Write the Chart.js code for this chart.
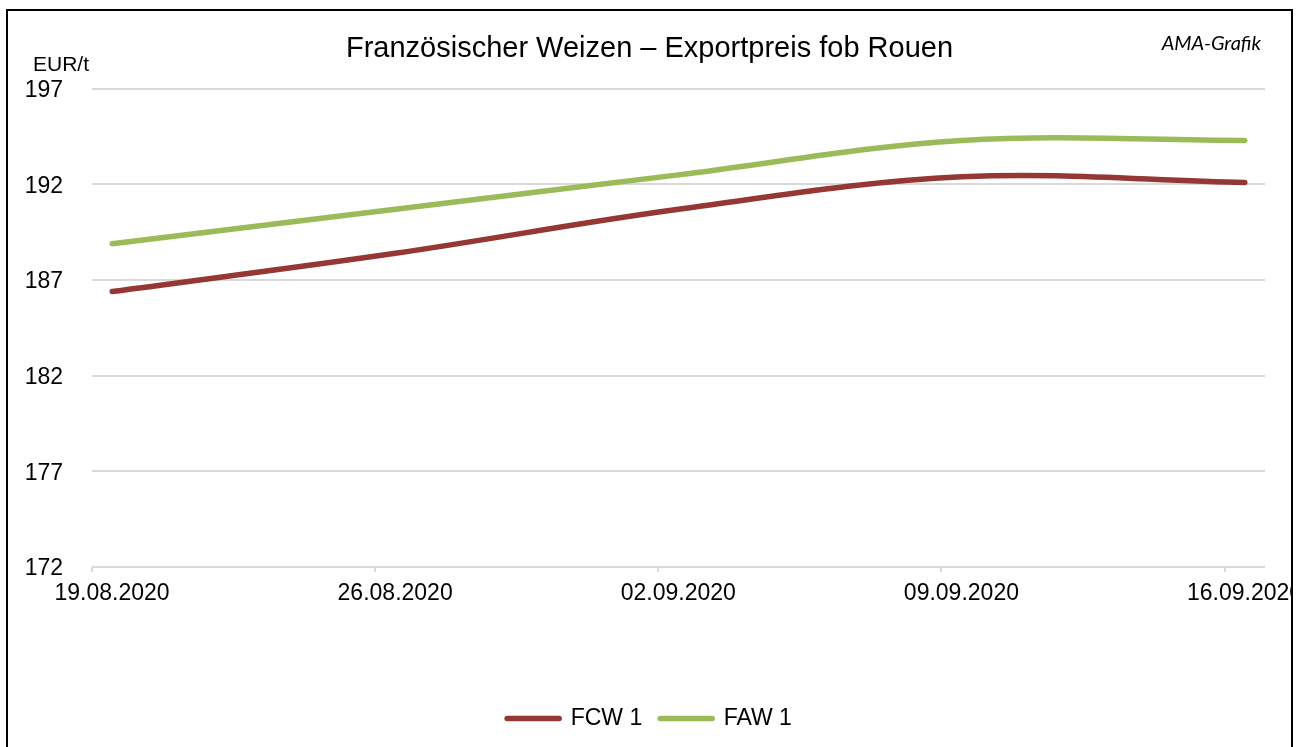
<!DOCTYPE html>
<html>
<head>
<meta charset="utf-8">
<script src="https://cdn.jsdelivr.net/npm/chart.js@4/dist/chart.umd.min.js"></script>
<style>
    html, body { margin: 0; padding: 0; background: #fff; overflow: hidden; }
    body { width: 1304px; height: 747px; position: relative; }
    #frame {
        position: absolute; left: 6px; top: 9px;
        width: 1283px; height: 750px;
        border: 2px solid #000;
        overflow: hidden;
    }
    #frame canvas { display: block; }
</style>
</head>
<body>
<div id="frame"><canvas id="graph-line" width="1283" height="736"></canvas></div>
<script>
var dates = ['19.08.2020', '26.08.2020', '02.09.2020', '09.09.2020', '16.09.2020'];
var fcw = [186.4, 188.4, 190.7, 192.4, 192.1];
var faw = [188.9, 190.7, 192.5, 194.3, 194.3];
var yTicks = [172, 177, 182, 187, 192, 197];

createGraphLine();

function dayIndex(label) {
    var p = label.split('.');
    var first = dates[0].split('.');
    var d = Date.UTC(+p[2], +p[1] - 1, +p[0]);
    var d0 = Date.UTC(+first[2], +first[1] - 1, +first[0]);
    return Math.round((d - d0) / 86400000);
}

function toPoints(values) {
    return values.map(function (v, i) {
        return { x: dayIndex(dates[i]), y: v };
    });
}

function createGraphLine() {
    var ctx = document.getElementById('graph-line').getContext('2d');
    var lastDay = dayIndex(dates[dates.length - 1]);

    Chart.defaults.font.family = '"Liberation Sans", Arial, sans-serif';
    Chart.defaults.color = '#000';

    // unit label and source note
    var extraText = {
        id: 'extraText',
        afterDraw: function (chart) {
            var c = chart.ctx;
            var a = chart.chartArea;
            c.save();
            c.fillStyle = '#000';
            c.textBaseline = 'middle';
            c.font = '21px "Liberation Sans", Arial, sans-serif';
            c.textAlign = 'left';
            c.fillText('EUR/t', a.left - 59, a.top - 24);
            c.font = 'italic 20px Lato, "Open Sans", sans-serif';
            c.textAlign = 'right';
            c.fillText('AMA-Grafik', a.right - 4, a.top - 45);
            c.restore();
        }
    };

    var data = {
        datasets: [{
            label: 'FCW 1',
            data: toPoints(fcw),
            borderColor: '#953735',
            backgroundColor: '#953735'
        }, {
            label: 'FAW 1',
            data: toPoints(faw),
            borderColor: '#9BBB59',
            backgroundColor: '#9BBB59'
        }]
    };

    var options = {
        responsive: false,
        animation: false,
        layout: {
            padding: { left: 0, right: 0, top: 0, bottom: 7 }
        },
        elements: {
            line: {
                borderWidth: 5.5,
                tension: 0.35,
                borderCapStyle: 'round',
                borderJoinStyle: 'round'
            },
            point: { radius: 0, hoverRadius: 0 }
        },
        plugins: {
            title: {
                display: true,
                text: 'Französischer Weizen – Exportpreis fob Rouen',
                font: { size: 29, weight: 'normal' },
                color: '#000',
                padding: { top: 21, bottom: 22 }
            },
            legend: {
                position: 'bottom',
                labels: {
                    usePointStyle: true,
                    pointStyle: 'line',
                    pointStyleWidth: 52,
                    font: { size: 23 },
                    color: '#000',
                    padding: 18,
                    generateLabels: function (chart) {
                        var items = Chart.defaults.plugins.legend.labels.generateLabels(chart);
                        items.forEach(function (item, i) {
                            item.strokeStyle = chart.data.datasets[i].borderColor;
                            item.fillStyle = chart.data.datasets[i].borderColor;
                            item.lineWidth = 5.5;
                            item.lineCap = 'round';
                        });
                        return items;
                    }
                }
            },
            tooltip: { enabled: false }
        },
        scales: {
            x: {
                type: 'linear',
                min: -0.5,
                max: lastDay + 0.5,
                afterBuildTicks: function (scale) {
                    scale.ticks = dates.map(function (d) {
                        return { value: dayIndex(d) - 0.5 };
                    });
                },
                afterFit: function (scale) {
                    scale.height = 122;
                },
                ticks: {
                    autoSkip: false,
                    maxRotation: 0,
                    padding: 8,
                    labelOffset: 20,
                    font: { size: 23 },
                    callback: function (value) {
                        var i = dates.findIndex(function (d) {
                            return dayIndex(d) - 0.5 === value;
                        });
                        return i >= 0 ? dates[i] : '';
                    }
                },
                grid: {
                    drawOnChartArea: false,
                    drawTicks: true,
                    tickLength: 5,
                    color: '#d9d9d9',
                    lineWidth: 2
                },
                border: { display: false }
            },
            y: {
                min: yTicks[0],
                max: yTicks[yTicks.length - 1],
                afterBuildTicks: function (scale) {
                    scale.ticks = yTicks.map(function (v) { return { value: v }; });
                },
                afterFit: function (scale) {
                    scale.width = 84;
                },
                ticks: {
                    padding: 29,
                    labelOffset: 2,
                    font: { size: 23 }
                },
                grid: {
                    drawTicks: false,
                    color: '#d9d9d9',
                    lineWidth: 2
                },
                border: { display: false }
            },
            // empty right margin so the title and legend stay centred on the frame
            yRight: {
                position: 'right',
                min: yTicks[0],
                max: yTicks[yTicks.length - 1],
                afterFit: function (scale) {
                    scale.width = 26;
                },
                ticks: { display: false },
                grid: { display: false },
                border: { display: false }
            }
        }
    };

    var chart = new Chart(ctx, {
        type: 'line',
        data: data,
        options: options,
        plugins: [extraText]
    });
}
</script>
</body>
</html>
